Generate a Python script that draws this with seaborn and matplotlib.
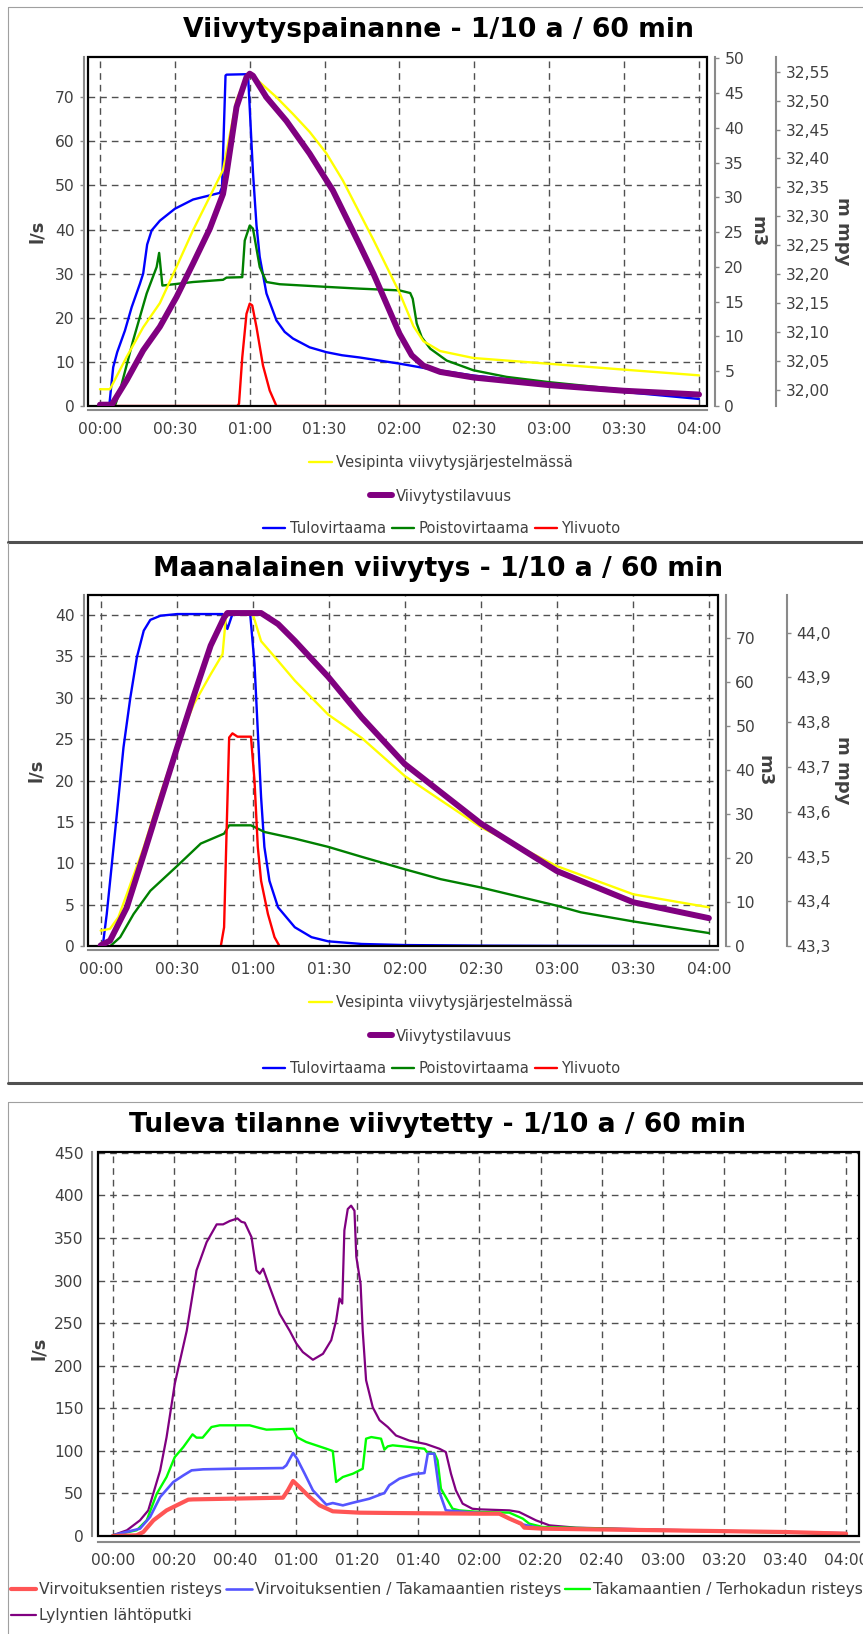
import numpy as np
import matplotlib
matplotlib.use("Agg")
import matplotlib.pyplot as plt
import seaborn as sns
from matplotlib.lines import Line2D
from matplotlib.patches import Rectangle
from matplotlib.ticker import FixedLocator, FuncFormatter

# ---------- Viivytyspainanne (minutes) ----------
p1_tulo_t = [0, 3.7, 5.3, 6.9, 10, 12.7, 16, 17.3, 18.9, 20.7, 24, 30, 37.3, 48, 48.9, 50.3, 50.7,
             58.7, 59.3, 61.3, 62.7, 64, 66.7, 70.7, 74, 77.3, 84, 90.7, 97, 104, 120, 131, 149.6,
             180, 209.6, 240]
p1_tulo = [0, 0, 8.8, 12.2, 17.1, 22.4, 27.7, 30, 36.6, 39.8, 42, 44.7, 46.8, 48.3, 49.6, 74.9, 75.1,
           75.2, 75.3, 52.9, 41, 33.8, 25.5, 19.4, 16.8, 15.3, 13.3, 12.2, 11.5, 11.0, 9.6, 8.5, 6.9,
           5.1, 3.2, 1.6]
p1_poisto_t = [0, 6, 8, 13.3, 18.7, 22.7, 23.7, 25, 37.3, 49.3, 50.7, 57, 58, 60, 61.3, 64, 66.7, 72,
               90.7, 104, 120, 124.3, 125.3, 126.9, 128.9, 132.3, 138.9, 149.6, 162.9, 180, 209.6, 240]
p1_poisto = [0, 0, 3.5, 14.9, 25.5, 31.5, 34.7, 27.3, 28.1, 28.6, 29.1, 29.2, 37.5, 40.9, 40.2, 31.5,
             28.1, 27.6, 27, 26.6, 26.2, 25.6, 24.3, 18.7, 15.6, 13, 10.3, 8.1, 6.6, 5.4, 3.7, 2.2]
p1_yli_t = [0, 55, 55.7, 57, 58.7, 60, 61, 62.7, 65.3, 68, 70.7, 240]
p1_yli = [0, 0, 0.5, 11, 20.9, 23.2, 22.8, 17.9, 9.2, 3.5, 0, 0]
p1_tilavuus_t = [0, 4.7, 10.7, 17.3, 24, 30.7, 37.3, 44, 49.3, 50.7, 54.7, 58.7, 60, 61.3, 66.7, 74.7,
                 84, 93.3, 104, 109.6, 120, 124.9, 129.6, 136.3, 149.6, 180, 209.6, 240]
p1_tilavuus = [0.19, 0.19, 3.7, 8.0, 11.4, 15.7, 20.5, 25.5, 30.5, 33.4, 43.0, 47.3, 47.8, 47.5, 44.4,
               41.0, 36.3, 31.0, 23.2, 19.0, 10.4, 7.3, 5.8, 4.9, 4.1, 3.0, 2.2, 1.65]
p1_vesi_t = [0, 4, 10.7, 17.3, 24, 30.7, 37.3, 44, 49.3, 54.7, 58, 60, 64, 70.7, 77.3, 84, 90.7, 97.3,
             109.6, 120, 125.6, 129.6, 136.3, 149.6, 180, 209.6, 240]
p1_vesi = [32.001, 32.001, 32.057, 32.108, 32.150, 32.213, 32.276, 32.334, 32.380, 32.501, 32.535,
           32.546, 32.532, 32.506, 32.477, 32.446, 32.409, 32.362, 32.259, 32.168, 32.110, 32.084,
           32.067, 32.055, 32.045, 32.035, 32.025]

# ---------- Maanalainen viivytys ----------
p2_tulo_t = [0, 0.8, 2.4, 4.4, 6.4, 9, 11.7, 14.3, 17, 19.6, 23.6, 30.2, 48.1, 50, 52, 59, 60.7, 62,
             63.3, 64.6, 66.6, 70, 76.6, 83.2, 89.8, 103, 120, 150, 180, 240]
p2_tulo = [0, 0, 3.9, 9.9, 16, 24, 30, 34.9, 38.1, 39.4, 39.9, 40.1, 40.1, 38.3, 40.1, 40.1, 34.1, 26,
           18, 12, 7.9, 4.7, 2.3, 1.1, 0.6, 0.28, 0.15, 0.08, 0.05, 0.02]
p2_poisto_t = [0, 3.7, 7.7, 13, 19.6, 30.2, 39.5, 48.7, 50.7, 59.3, 60.7, 64.6, 76.6, 89.8, 103, 120,
               134.2, 150, 180, 189.5, 210.2, 240]
p2_poisto = [0, 0, 1.1, 3.9, 6.7, 9.7, 12.4, 13.6, 14.6, 14.6, 14.4, 13.8, 13, 12, 10.8, 9.3, 8.1, 7.1,
             4.9, 4.1, 3.0, 1.6]
p2_yli_t = [0, 47.4, 48.7, 49.7, 50.7, 52, 54, 59.3, 60.7, 62, 63.3, 66, 68.6, 70.6, 240]
p2_yli = [0, 0, 2.3, 14, 25.2, 25.7, 25.3, 25.3, 20, 12, 7.9, 3.9, 1.1, 0, 0]
p2_tilavuus_t = [0, 3.7, 10.3, 17, 23.6, 30.2, 36.8, 43.4, 48.7, 50, 63.3, 70, 76.6, 89.8, 103, 120,
                 150, 180, 210.2, 240]
p2_tilavuus = [0.2, 1.3, 8.8, 20.9, 33.1, 45.2, 57.0, 68.3, 74.7, 75.7, 75.7, 73.2, 69.4, 61.2, 52.0,
               41.4, 27.9, 17.1, 10.0, 6.4]
p2_vesi_t = [0, 3.7, 7, 10.3, 17, 23.6, 30.2, 36.8, 43.4, 48.1, 49.4, 50.7, 60, 63.3, 70, 76.6, 89.8,
             103, 120, 150, 180, 210.2, 240]
p2_vesi = [43.335, 43.339, 43.365, 43.416, 43.521, 43.640, 43.750, 43.841, 43.907, 43.952, 44.033,
           44.042, 44.042, 43.981, 43.937, 43.893, 43.817, 43.765, 43.680, 43.566, 43.479, 43.416,
           43.387]

# ---------- Tuleva tilanne viivytetty ----------
p3_lylyntie_t = [0, 4.6, 8.9, 11.6, 15.5, 17.6, 20.3, 24.2, 27.4, 30.7, 34, 36.1, 38.3, 40.8, 42.1,
                 43.2, 45.4, 47, 48.1, 49.2, 51.4, 54.6, 57.9, 60.1, 62.2, 65.5, 68.8, 71.5, 73.1,
                 74.2, 75.1, 75.8, 76.9, 78, 79.1, 79.7, 81.1, 81.8, 82.9, 85.1, 87.3, 90, 92.7, 97.1,
                 102.5, 106.9, 109, 110.7, 112.3, 114.5, 117.7, 120, 129.8, 133, 138.5, 142.9, 151.6,
                 180, 220, 240]
p3_lylyntie = [0.8, 6.7, 18.4, 30, 77, 116, 179, 241, 312, 345, 366, 366, 370, 373, 369, 368, 351, 312,
               308, 314, 292, 261, 241, 226, 216, 207, 214, 230, 253, 279, 273, 359, 384, 388, 382,
               328, 296, 241, 183, 151, 136, 128, 118, 112, 108, 102.5, 98.6, 73, 53.6, 38, 32, 31.3,
               30.1, 28.2, 18.4, 12.5, 9.8, 7.4, 4.7, 3.5]
p3_terho_t = [0, 7.8, 11.1, 14.4, 17.6, 20.3, 23.1, 26.1, 27.4, 29.4, 32.3, 35, 44.8, 48.1, 50.3, 59,
              60.3, 63.3, 69.9, 72, 73.1, 75.3, 78.6, 81.8, 82.9, 84.6, 87.8, 88.9, 90, 91.6, 97.1,
              102, 103.1, 105.2, 106.3, 107.4, 109.6, 111.2, 113.4, 120, 129.8, 134.2, 136.3, 140.7,
              180, 240]
p3_terho = [0.8, 6.7, 18.4, 49.7, 69.3, 92.8, 104.5, 119.4, 115.5, 115.5, 128, 130, 130, 126.8, 124.9,
            126, 116, 110.4, 102.5, 99.8, 63.4, 69.3, 73.2, 79, 114.3, 116.2, 114.3, 101.4, 105.3,
            106.5, 104.5, 102.5, 97.5, 97.5, 88.8, 55.6, 41.9, 32.1, 30.1, 28.2, 27.4, 20.4, 14.5,
            10.6, 6.7, 2.7]
p3_takamaa_t = [0, 8.9, 12.2, 15.5, 19.8, 23.1, 25.8, 29.6, 40.5, 55.7, 56.8, 59, 60.3, 62.8, 65.5,
                69.9, 72, 75.3, 78.6, 84, 88.9, 90.5, 93.8, 98.2, 102, 103.1, 105.2, 106.9, 109, 120,
                126.5, 133.6, 140.7, 180, 220, 240]
p3_takamaa = [0.8, 8.6, 22.3, 45.8, 63.4, 71.2, 77.1, 78.3, 79.1, 79.8, 83, 97.5, 90.8, 73.2, 53.6,
              36.8, 38.7, 36, 39.1, 43.8, 50.5, 59.5, 67.3, 72.4, 74, 96.7, 96.7, 51.7, 30.1, 27, 26,
              14, 8.5, 6.6, 4.6, 2.6]
p3_virvoitus_t = [0, 7.8, 10, 13.3, 17.6, 20.9, 24.7, 26.3, 55.7, 57.3, 59, 61.1, 64.4, 67.7, 72, 80.7,
                  91.6, 120, 126.5, 129.8, 133.6, 134.7, 140.7, 180, 220, 240]
p3_virvoitus = [0, 0.8, 4.7, 18.4, 30.1, 36, 42.7, 43, 45, 53.6, 64.6, 57.5, 45.8, 36, 29, 27.4, 27,
                26.2, 26.2, 20.4, 14.5, 9.8, 8.6, 6.7, 4.7, 2.7]

titles = ["Viivytyspainanne - 1/10 a / 60 min",
          "Maanalainen viivytys - 1/10 a / 60 min",
          "Tuleva tilanne viivytetty - 1/10 a / 60 min"]
flow_labels = ["Tulovirtaama", "Poistovirtaama", "Ylivuoto"]
level_label = "Vesipinta viivytysjärjestelmässä"
volume_label = "Viivytystilavuus"
p3_labels = ["Virvoituksentien risteys", "Virvoituksentien / Takamaantien risteys",
             "Takamaantien / Terhokadun risteys", "Lylyntien lähtöputki"]

sns.set_style("white")
plt.rcParams["font.family"] = ["DejaVu Sans"]
plt.rcParams["lines.scale_dashes"] = False

W, H = 863, 1634
fig = plt.figure(figsize=(W / 100, H / 100), dpi=100)

SPINE = "#8a8a8a"
TXT = "#404040"
GRID = dict(color="#505050", linewidth=1.0, linestyle=(0, (4.8, 3.6)))


def px(l, t, r, b):
    return [l / W, 1 - b / H, (r - l) / W, (b - t) / H]


def hhmm(v, pos):
    v = int(round(v))
    return f"{v // 60:02d}:{v % 60:02d}"


def base_axes(rect, xstep, yticks, off):
    ax = fig.add_axes(rect)
    ax.xaxis.set_major_locator(FixedLocator(np.arange(0, 241, xstep)))
    ax.xaxis.set_major_formatter(FuncFormatter(hhmm))
    ax.yaxis.set_major_locator(FixedLocator(yticks))
    ax.grid(True, **GRID)
    ax.set_axisbelow(True)
    for s in ["top", "right"]:
        ax.spines[s].set_visible(False)
    for s in ["left", "bottom"]:
        ax.spines[s].set_position(("outward", off))
        ax.spines[s].set_color(SPINE)
        ax.spines[s].set_linewidth(1.5)
    ax.add_artist(Rectangle((0, 0), 1, 1, transform=ax.transAxes, fill=False,
                            ec="black", lw=1.6, zorder=5, clip_on=False))
    ax.tick_params(axis="both", direction="out", length=3, width=1, color=SPINE,
                   labelcolor=TXT, labelsize=11.2)
    ax.tick_params(axis="x", pad=5.5)
    ax.tick_params(axis="y", pad=3.5)
    return ax


def right_axes(ax, off, ticks, fmt):
    tw = ax.twinx()
    for s in ["top", "left", "bottom"]:
        tw.spines[s].set_visible(False)
    tw.spines["right"].set_position(("outward", off))
    tw.spines["right"].set_color(SPINE)
    tw.spines["right"].set_linewidth(1.5)
    tw.yaxis.set_major_locator(FixedLocator(ticks))
    tw.yaxis.set_major_formatter(FuncFormatter(fmt))
    tw.tick_params(axis="y", direction="out", length=3, width=1, color=SPINE,
                   labelcolor=TXT, labelsize=11.2, pad=3.5)
    tw.grid(False)
    return tw


def ylab(ax, text, x, rot, y=0.5):
    ax.set_ylabel(text, fontsize=13, fontweight="bold", color=TXT, rotation=rot,
                  va="center", ha="center")
    ax.yaxis.set_label_coords(x, y)
    ax.yaxis.label.set_rotation_mode("default")


def line(ax, t, v, color, lw):
    sns.lineplot(x=t, y=v, ax=ax, color=color, linewidth=lw, legend=False, estimator=None)


def row_legend(items, cx, cy, fs=10.6):
    handles = [Line2D([], [], color=c, lw=w) for c, w, _ in items]
    labels = [l for _, _, l in items]
    fig.legend(handles, labels, loc="center", bbox_to_anchor=(cx / W, 1 - cy / H),
               ncol=len(items), frameon=False, fontsize=fs, handlelength=1.5,
               handletextpad=0.28, columnspacing=0.42, borderpad=0, borderaxespad=0,
               labelcolor=TXT)


def storage_panel(rect, ylim, yticks, m3_lim, m3_ticks, h_lim, h_ticks, h_fmt, xlim,
                  tulo, poisto, yli, vol, lev, top, title_y, leg_y, m3_x):
    ax = base_axes(rect, 30, yticks, 3)
    tw_h = right_axes(ax, 50, h_ticks, h_fmt)
    tw_v = right_axes(ax, 6, m3_ticks, lambda v, p: f"{v:g}")
    line(ax, tulo[0], tulo[1], "#0000ff", 1.7)
    line(ax, poisto[0], poisto[1], "#008000", 1.7)
    line(ax, yli[0], yli[1], "#ff0000", 1.7)
    line(tw_h, lev[0], lev[1], "#ffff00", 1.7)
    line(tw_v, vol[0], vol[1], "#800080", 4.3)
    ax.set_xlim(*xlim)
    ax.set_ylim(*ylim)
    tw_h.set_ylim(*h_lim)
    tw_v.set_ylim(*m3_lim)
    for a in (ax, tw_h, tw_v):
        a.set_xlabel("")
    w = rect[2] * W
    l = rect[0] * W
    ylab(ax, "l/s", -0.083, 90)
    ylab(tw_v, "m3", (m3_x - l) / w, -90)
    ylab(tw_h, "m mpy", (843 - l) / w, -90)
    fig.text(438 / W, 1 - title_y / H, top, ha="center", va="baseline",
             fontsize=19.2, fontweight="bold", color="black")
    row_legend([("#ffff00", 1.7, level_label)], 441, leg_y[0])
    row_legend([("#800080", 4.3, volume_label)], 441, leg_y[1])
    row_legend([("#0000ff", 1.7, flow_labels[0]), ("#008000", 1.7, flow_labels[1]),
                ("#ff0000", 1.7, flow_labels[2])], 442, leg_y[2])


storage_panel(px(88, 57, 707, 406), (0, 79.1), np.arange(0, 71, 10),
              (0, 50.2), np.arange(0, 51, 5),
              (31.972, 32.5755), np.round(np.arange(32.0, 32.551, 0.05), 2),
              lambda v, p: f"{v:.2f}".replace(".", ","), (-4.8, 243.2),
              (p1_tulo_t, p1_tulo), (p1_poisto_t, p1_poisto), (p1_yli_t, p1_yli),
              (p1_tilavuus_t, p1_tilavuus), (p1_vesi_t, p1_vesi),
              titles[0], 37, (463, 496, 528.6), 757)

storage_panel(px(88, 595, 718, 946.3), (0, 42.4), np.arange(0, 41, 5),
              (0, 79.8), np.arange(0, 71, 10),
              (43.3, 44.084), np.round(np.arange(43.3, 44.01, 0.1), 1),
              lambda v, p: f"{v:.1f}".replace(".", ","), (-5.0, 243.6),
              (p2_tulo_t, p2_tulo), (p2_poisto_t, p2_poisto), (p2_yli_t, p2_yli),
              (p2_tilavuus_t, p2_tilavuus), (p2_vesi_t, p2_vesi),
              titles[1], 576, (1003, 1036, 1068.6), 764)

# third panel
ax3 = base_axes(px(98, 1152, 858.6, 1536), 20, np.arange(0, 451, 50), 4)
line(ax3, p3_lylyntie_t, p3_lylyntie, "#800080", 1.6)
line(ax3, p3_terho_t, p3_terho, "#00ff00", 1.7)
line(ax3, p3_takamaa_t, p3_takamaa, "#5555ff", 1.9)
line(ax3, p3_virvoitus_t, p3_virvoitus, "#ff5555", 3.0)
ax3.set_xlim(-4.84, 244.1)
ax3.set_ylim(0, 451)
ax3.set_xlabel("")
ylab(ax3, "l/s", -0.078, 90, 0.488)
fig.text(437.5 / W, 1 - 1132 / H, titles[2], ha="center", va="baseline",
         fontsize=19.2, fontweight="bold", color="black")
p3_items = [("#ff5555", 3.0, p3_labels[0]), ("#800080", 1.6, p3_labels[3]),
            ("#5555ff", 1.9, p3_labels[1]), ("#00ff00", 1.7, p3_labels[2])]
fig.legend([Line2D([], [], color=c, lw=w) for c, w, _ in p3_items],
           [l for _, _, l in p3_items], loc="upper left",
           bbox_to_anchor=(11 / W, 1 - 1582 / H), ncol=3, frameon=False, fontsize=11.2,
           handlelength=1.62, handletextpad=0.2, columnspacing=0.26, labelspacing=0.72,
           borderpad=0, borderaxespad=0, labelcolor=TXT)


# panel frames
def fline(x0, y0, x1, y1, color, lw):
    fig.add_artist(Line2D([x0 / W, x1 / W], [1 - y0 / H, 1 - y1 / H], color=color, lw=lw,
                          transform=fig.transFigure))


fline(8, 7, W, 7, "#a0a0a0", 0.8)
fline(8, 7, 8, 541, "#a0a0a0", 0.8)
fline(8, 542, W, 542, "#505050", 2.2)
fline(8, 543, 8, 1083, "#a0a0a0", 0.8)
fline(8, 1083, W, 1083, "#505050", 2.2)
fline(8, 1102, W, 1102, "#a0a0a0", 0.8)
fline(8, 1102, 8, H, "#a0a0a0", 0.8)

fig.savefig("out.png", dpi=100, facecolor="white")
